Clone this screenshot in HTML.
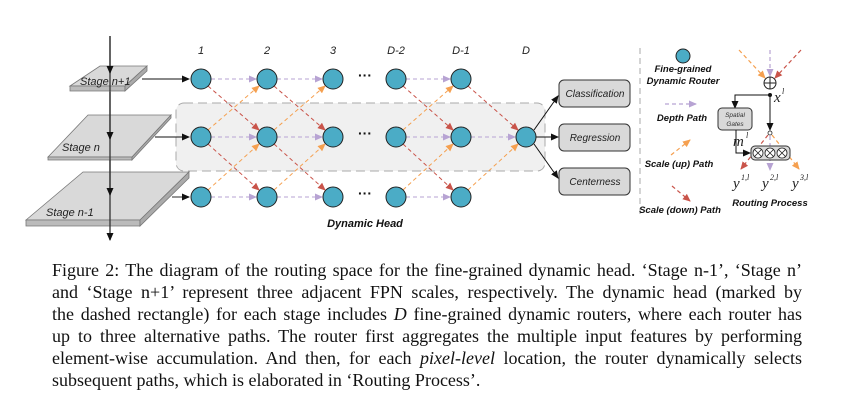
<!DOCTYPE html>
<html><head><style>
body{margin:0;background:#fff;width:843px;height:408px;overflow:hidden;position:relative}
svg{position:absolute;left:0;top:0}
.cap{position:absolute;left:52px;top:259px;width:750px;font-family:"Liberation Serif",serif;font-size:18px;line-height:22px;color:#111}
.cap div{text-align:justify;text-align-last:justify;white-space:nowrap}
.cap div.l{text-align-last:left}
</style></head><body>
<svg width="843" height="250" viewBox="0 0 843 250" font-family="Liberation Sans, sans-serif">
<defs>
<marker id="ak" markerWidth="8" markerHeight="8" refX="7" refY="4" orient="auto" markerUnits="userSpaceOnUse"><path d="M0,0.5 L8,4 L0,7.5z" fill="#111"/></marker>
<marker id="ap" markerWidth="8" markerHeight="8" refX="7" refY="4" orient="auto" markerUnits="userSpaceOnUse"><path d="M0,0.5 L8,4 L0,7.5z" fill="#b7a3d3"/></marker>
<marker id="ao" markerWidth="8" markerHeight="8" refX="7" refY="4" orient="auto" markerUnits="userSpaceOnUse"><path d="M0,0.5 L8,4 L0,7.5z" fill="#f5a050"/></marker>
<marker id="ar" markerWidth="8" markerHeight="8" refX="7" refY="4" orient="auto" markerUnits="userSpaceOnUse"><path d="M0,0.5 L8,4 L0,7.5z" fill="#c9544a"/></marker>
</defs>
<rect x="176" y="103" width="369" height="68" rx="8" fill="#f0f0f0" stroke="#aaa" stroke-dasharray="9,5"/>
<polygon points="70,86 100,66 147,66 125,86" fill="#d9d9d9" stroke="#777" stroke-width="0.8"/>
<polygon points="70,86 125,86 125,91 70,91" fill="#bbb" stroke="#777" stroke-width="0.8"/>
<polygon points="125,86 147,66 147,71 125,91" fill="#aaa" stroke="#777" stroke-width="0.8"/>
<polygon points="48,157 88,115 171,115 132,157" fill="#d9d9d9" stroke="#777" stroke-width="0.8"/>
<polygon points="48,157 132,157 132,160 48,160" fill="#bbb" stroke="#777" stroke-width="0.8"/>
<polygon points="132,157 171,115 171,118 132,160" fill="#aaa" stroke="#777" stroke-width="0.8"/>
<polygon points="26,220 83,172 189,172 140,220" fill="#d9d9d9" stroke="#777" stroke-width="0.8"/>
<polygon points="26,220 140,220 140,226 26,226" fill="#bbb" stroke="#777" stroke-width="0.8"/>
<polygon points="140,220 189,172 189,178 140,226" fill="#aaa" stroke="#777" stroke-width="0.8"/>
<line x1="110" y1="36" x2="110" y2="240" stroke="#333" stroke-width="1.3" marker-end="url(#ak)"/>
<line x1="110" y1="36" x2="110" y2="73" stroke="#333" stroke-width="1.3" marker-end="url(#ak)"/>
<line x1="110" y1="92" x2="110" y2="139" stroke="#333" stroke-width="1.3" marker-end="url(#ak)"/>
<line x1="110" y1="160" x2="110" y2="195" stroke="#333" stroke-width="1.3" marker-end="url(#ak)"/>
<g font-style="italic" font-size="11" fill="#222">
<text x="80" y="85">Stage n+1</text><text x="62" y="151">Stage n</text><text x="46" y="216">Stage n-1</text>
</g>
<line x1="142" y1="79" x2="189" y2="79" stroke="#111" marker-end="url(#ak)"/>
<line x1="155" y1="137" x2="189" y2="137" stroke="#111" marker-end="url(#ak)"/>
<line x1="172" y1="197" x2="189" y2="197" stroke="#555" stroke-width="1.3" marker-end="url(#ak)"/>
<g font-style="italic" font-size="11" fill="#222" text-anchor="middle">
<text x="201" y="54">1</text><text x="267" y="54">2</text><text x="333" y="54">3</text><text x="396" y="54">D-2</text><text x="461" y="54">D-1</text><text x="526" y="54">D</text>
</g>
<g stroke-width="1" stroke-dasharray="4,3" fill="none">
<g stroke="#b7a3d3">
<line x1="211" y1="79" x2="256" y2="79" marker-end="url(#ap)"/><line x1="277" y1="79" x2="322" y2="79" marker-end="url(#ap)"/><line x1="406" y1="79" x2="450" y2="79" marker-end="url(#ap)"/>
<line x1="211" y1="137" x2="256" y2="137" marker-end="url(#ap)"/><line x1="277" y1="137" x2="322" y2="137" marker-end="url(#ap)"/><line x1="406" y1="137" x2="450" y2="137" marker-end="url(#ap)"/><line x1="471" y1="137" x2="515" y2="137" marker-end="url(#ap)"/>
<line x1="211" y1="197" x2="256" y2="197" marker-end="url(#ap)"/><line x1="277" y1="197" x2="322" y2="197" marker-end="url(#ap)"/><line x1="406" y1="197" x2="450" y2="197" marker-end="url(#ap)"/>
</g>
<g stroke="#c9544a">
<line x1="208" y1="86" x2="259" y2="130" marker-end="url(#ar)"/><line x1="274" y1="86" x2="325" y2="130" marker-end="url(#ar)"/><line x1="403" y1="86" x2="453" y2="130" marker-end="url(#ar)"/><line x1="468" y1="86" x2="518" y2="130" marker-end="url(#ar)"/>
<line x1="208" y1="144" x2="259" y2="190" marker-end="url(#ar)"/><line x1="274" y1="144" x2="325" y2="190" marker-end="url(#ar)"/><line x1="403" y1="144" x2="453" y2="190" marker-end="url(#ar)"/>
</g>
<g stroke="#f5a050">
<line x1="208" y1="130" x2="259" y2="86" marker-end="url(#ao)"/><line x1="274" y1="130" x2="325" y2="86" marker-end="url(#ao)"/><line x1="403" y1="130" x2="453" y2="86" marker-end="url(#ao)"/>
<line x1="208" y1="190" x2="259" y2="144" marker-end="url(#ao)"/><line x1="274" y1="190" x2="325" y2="144" marker-end="url(#ao)"/><line x1="403" y1="190" x2="453" y2="144" marker-end="url(#ao)"/><line x1="468" y1="190" x2="518" y2="144" marker-end="url(#ao)"/>
</g>
</g>
<g fill="#4bacc6" stroke="#222" stroke-width="1">
<circle cx="201" cy="79" r="10"/><circle cx="267" cy="79" r="10"/><circle cx="333" cy="79" r="10"/><circle cx="396" cy="79" r="10"/><circle cx="461" cy="79" r="10"/>
<circle cx="201" cy="137" r="10"/><circle cx="267" cy="137" r="10"/><circle cx="333" cy="137" r="10"/><circle cx="396" cy="137" r="10"/><circle cx="461" cy="137" r="10"/><circle cx="526" cy="137" r="10"/>
<circle cx="201" cy="197" r="10"/><circle cx="267" cy="197" r="10"/><circle cx="333" cy="197" r="10"/><circle cx="396" cy="197" r="10"/><circle cx="461" cy="197" r="10"/>
</g>
<g font-size="14" font-weight="bold" fill="#111" text-anchor="middle">
<text x="365" y="80">···</text><text x="365" y="138">···</text><text x="365" y="198">···</text>
</g>
<text x="365" y="227" font-style="italic" font-weight="bold" font-size="11" text-anchor="middle" fill="#111">Dynamic Head</text>
<line x1="534" y1="130" x2="558" y2="96" stroke="#111" marker-end="url(#ak)"/>
<line x1="536" y1="137" x2="558" y2="137" stroke="#111" marker-end="url(#ak)"/>
<line x1="534" y1="144" x2="558" y2="178" stroke="#111" marker-end="url(#ak)"/>
<g fill="#d9d9d9" stroke="#333" stroke-width="1">
<rect x="559" y="80" width="71" height="27" rx="5"/><rect x="559" y="124" width="71" height="27" rx="5"/><rect x="559" y="168" width="71" height="27" rx="5"/>
</g>
<g font-style="italic" font-size="10" fill="#222" text-anchor="middle">
<text x="595" y="97">Classification</text><text x="595" y="141">Regression</text><text x="595" y="185">Centerness</text>
</g>
<line x1="640" y1="48" x2="640" y2="218" stroke="#aaa" stroke-dasharray="6,4"/>
<circle cx="683" cy="56" r="7" fill="#4bacc6" stroke="#222"/>
<g font-style="italic" font-weight="bold" font-size="9.5" fill="#111" text-anchor="middle">
<text x="683" y="72">Fine-grained</text><text x="683" y="84">Dynamic Router</text>
<text x="682" y="121">Depth Path</text><text x="679" y="167">Scale (up) Path</text><text x="680" y="213">Scale (down) Path</text>
<text x="770" y="206">Routing Process</text>
</g>
<g stroke-width="1.2" stroke-dasharray="4,3">
<line x1="665" y1="104" x2="696" y2="104" stroke="#b7a3d3" marker-end="url(#ap)"/>
<line x1="671" y1="155" x2="690" y2="140" stroke="#f5a050" marker-end="url(#ao)"/>
<line x1="672" y1="186" x2="690" y2="201" stroke="#c9544a" marker-end="url(#ar)"/>
<line x1="739" y1="50" x2="765" y2="78" stroke="#f5a050" marker-end="url(#ao)"/>
<line x1="770" y1="50" x2="770" y2="76" stroke="#b7a3d3" marker-end="url(#ap)"/>
<line x1="801" y1="50" x2="775" y2="78" stroke="#c9544a" marker-end="url(#ar)"/>
<line x1="768" y1="135" x2="741" y2="169" stroke="#c9544a" marker-end="url(#ar)"/>
<line x1="770" y1="136" x2="770" y2="170" stroke="#b7a3d3" marker-end="url(#ap)"/>
<line x1="772" y1="135" x2="799" y2="169" stroke="#f5a050" marker-end="url(#ao)"/>
</g>
<circle cx="770" cy="83" r="6" fill="#fff" stroke="#222"/>
<path d="M764,83H776M770,77V89" stroke="#222"/>
<circle cx="770" cy="95" r="2" fill="#111"/>
<line x1="770" y1="95" x2="770" y2="130" stroke="#111" marker-end="url(#ak)"/>
<circle cx="770" cy="133" r="2" fill="#fff" stroke="#222" stroke-width="0.8"/>
<polyline points="770,95 735,95 735,108" fill="none" stroke="#111" marker-end="url(#ak)"/>
<rect x="718" y="108" width="34" height="22" rx="4" fill="#d9d9d9" stroke="#333"/>
<g font-style="italic" font-size="6.5" fill="#333" text-anchor="middle"><text x="735" y="117">Spatial</text><text x="735" y="126">Gates</text></g>
<polyline points="736,130 736,153 750,153" fill="none" stroke="#111" marker-end="url(#ak)"/>
<rect x="751" y="146" width="39" height="14" rx="4" fill="#d9d9d9" stroke="#333"/>
<g fill="#fff" stroke="#222" stroke-width="0.8">
<circle cx="758" cy="153" r="5"/><circle cx="770" cy="153" r="5"/><circle cx="782" cy="153" r="5"/>
<path d="M754.5,149.5l7,7m0,-7l-7,7M766.5,149.5l7,7m0,-7l-7,7M778.5,149.5l7,7m0,-7l-7,7"/>
</g>
<g font-family="Liberation Serif, serif" font-style="italic" fill="#222">
<text x="774" y="102" font-size="15">x</text><text x="782" y="94" font-size="8">l</text>
<text x="733" y="146" font-size="15">m</text><text x="746" y="138" font-size="8">l</text>
<text x="733" y="188" font-size="15">y</text><text x="741" y="180" font-size="8">1,l</text>
<text x="762" y="188" font-size="15">y</text><text x="770" y="180" font-size="8">2,l</text>
<text x="792" y="188" font-size="15">y</text><text x="800" y="180" font-size="8">3,l</text>
</g>
</svg>
<div class="cap">
<div>Figure 2: The diagram of the routing space for the fine-grained dynamic head. ‘Stage n-1’, ‘Stage n’</div>
<div>and ‘Stage n+1’ represent three adjacent FPN scales, respectively. The dynamic head (marked by</div>
<div>the dashed rectangle) for each stage includes <i>D</i> fine-grained dynamic routers, where each router has</div>
<div>up to three alternative paths. The router first aggregates the multiple input features by performing</div>
<div>element-wise accumulation. And then, for each <i>pixel-level</i> location, the router dynamically selects</div>
<div class="l">subsequent paths, which is elaborated in ‘Routing Process’.</div>
</div>
</body></html>
